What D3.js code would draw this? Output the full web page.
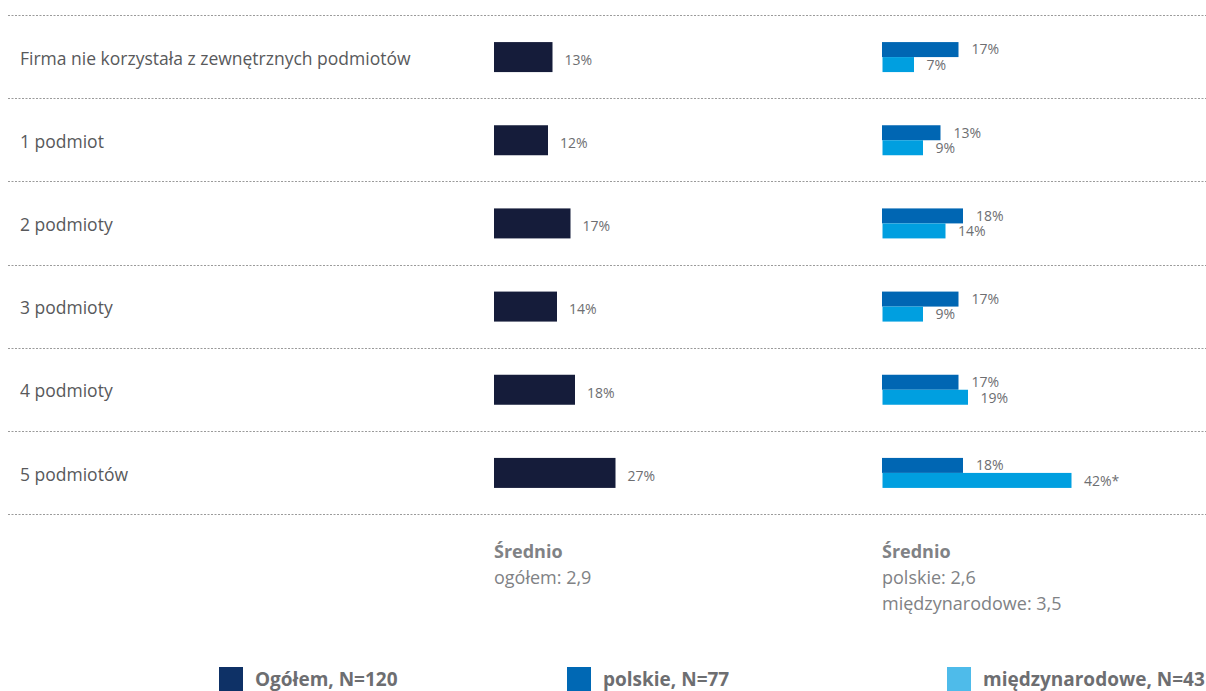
<!DOCTYPE html>
<html>
<head>
<meta charset="utf-8">
<script src="https://cdn.jsdelivr.net/npm/d3@7"></script>
<style>
  html, body { margin: 0; padding: 0; background: #fff; }
  svg { display: block; font-family: "Open Sans", "Noto Sans", sans-serif; }
</style>
</head>
<body>
<svg id="chart" width="1206" height="691"></svg>
<script>
// Number of external entities used by the firm
const categories = [
  "Firma nie korzystała z zewnętrznych podmiotów",
  "1 podmiot",
  "2 podmioty",
  "3 podmioty",
  "4 podmioty",
  "5 podmiotów"
];
const totalValues = [13, 12, 17, 14, 18, 27];      // Ogółem, N=120
const polishValues = [17, 13, 18, 17, 17, 18];     // polskie, N=77
const intlValues = [7, 9, 14, 9, 19, 42];          // międzynarodowe, N=43
const intlNotes = ["", "", "", "", "", "*"];

const summaryTotal = ["Średnio", "ogółem: 2,9"];
const summarySplit = ["Średnio", "polskie: 2,6", "międzynarodowe: 3,5"];

const legendItems = ["Ogółem, N=120", "polskie, N=77", "międzynarodowe, N=43"];

const colors = {
  total: "#151c3a",
  polish: "#0066b3",
  intl: "#009fe0",
  legendTotal: "#0e3166",
  legendPolish: "#0068b4",
  legendIntl: "#4ebbea",
  label: "#58595b",
  value: "#6d6e71",
  summary: "#808285",
  rule: "#9a9a9a"
};

const svg = d3.select("#chart");

// Row bands between the dotted rules
const y = d3.scaleBand().domain(d3.range(categories.length)).range([15, 514]);
// Percent to pixel length
const x = d3.scaleLinear().domain([0, 100]).range([0, 450]);

const leftX = 494;
const rightX = 882;

// Dotted separators
const rules = d3.range(categories.length + 1).map(i => 15 + i * y.step());
svg.append("g").selectAll("line").data(rules).join("line")
  .attr("x1", 8).attr("x2", 1206)
  .attr("y1", d => Math.round(d) + 0.5).attr("y2", d => Math.round(d) + 0.5)
  .attr("stroke", colors.rule).attr("stroke-width", 1)
  .attr("stroke-dasharray", "2,1.5");

// Category labels
svg.append("g").selectAll("text").data(categories).join("text")
  .attr("x", 20)
  .attr("y", (d, i) => y(i) + y.bandwidth() / 2 + 3.5)
  .attr("dominant-baseline", "middle")
  .attr("font-size", 17.5)
  .attr("fill", colors.label)
  .text(d => d);

// Overall bars
const barH = 30;
const gTotal = svg.append("g");
gTotal.selectAll("rect").data(totalValues).join("rect")
  .attr("x", leftX)
  .attr("y", (d, i) => y(i) + y.bandwidth() / 2 - barH / 2 + 0.5)
  .attr("width", d => x(d))
  .attr("height", barH)
  .attr("fill", colors.total);
gTotal.selectAll("text").data(totalValues).join("text")
  .attr("x", d => leftX + x(d) + 12)
  .attr("y", (d, i) => y(i) + y.bandwidth() / 2 + 4.5)
  .attr("dominant-baseline", "middle")
  .attr("font-size", 14)
  .attr("fill", colors.value)
  .text(d => d + "%");

// Polish vs international bars
const subH = 15;
const gSplit = svg.append("g");
gSplit.selectAll("rect.pl").data(polishValues).join("rect")
  .attr("class", "pl")
  .attr("x", rightX)
  .attr("y", (d, i) => y(i) + y.bandwidth() / 2 - subH + 0.5)
  .attr("width", d => x(d))
  .attr("height", subH)
  .attr("fill", colors.polish);
gSplit.selectAll("rect.in").data(intlValues).join("rect")
  .attr("class", "in")
  .attr("x", rightX + 0.5)
  .attr("y", (d, i) => y(i) + y.bandwidth() / 2 + 0.5)
  .attr("width", d => x(d))
  .attr("height", subH)
  .attr("fill", colors.intl);
gSplit.selectAll("text.pl").data(polishValues).join("text")
  .attr("class", "pl")
  .attr("x", d => rightX + x(d) + 13)
  .attr("y", (d, i) => y(i) + y.bandwidth() / 2 - subH / 2 + 1.5)
  .attr("dominant-baseline", "middle")
  .attr("font-size", 14)
  .attr("fill", colors.value)
  .text(d => d + "%");
gSplit.selectAll("text.in").data(intlValues).join("text")
  .attr("class", "in")
  .attr("x", d => rightX + x(d) + 13)
  .attr("y", (d, i) => y(i) + y.bandwidth() / 2 + subH / 2 + 2)
  .attr("dominant-baseline", "middle")
  .attr("font-size", 14)
  .attr("fill", colors.value)
  .text((d, i) => d + "%" + intlNotes[i]);

// Averages
function summary(lines, x0) {
  svg.append("g").selectAll("text").data(lines).join("text")
    .attr("x", x0)
    .attr("y", (d, i) => 553 + i * 26)
    .attr("dominant-baseline", "middle")
    .attr("font-size", 18)
    .attr("font-weight", (d, i) => i === 0 ? 700 : 400)
    .attr("fill", colors.summary)
    .text(d => d);
}
summary(summaryTotal, leftX);
summary(summarySplit, rightX);

// Legend
const legendX = [219, 567, 947];
const legendFill = [colors.legendTotal, colors.legendPolish, colors.legendIntl];
const lg = svg.append("g").selectAll("g").data(legendItems).join("g")
  .attr("transform", (d, i) => `translate(${legendX[i]},667)`);
lg.append("rect")
  .attr("width", 24).attr("height", 24)
  .attr("fill", (d, i) => legendFill[i]);
lg.append("text")
  .attr("x", 36).attr("y", 18.5)
  .attr("font-size", 19)
  .attr("font-weight", 700)
  .attr("fill", colors.value)
  .text(d => d);
</script>
</body>
</html>
